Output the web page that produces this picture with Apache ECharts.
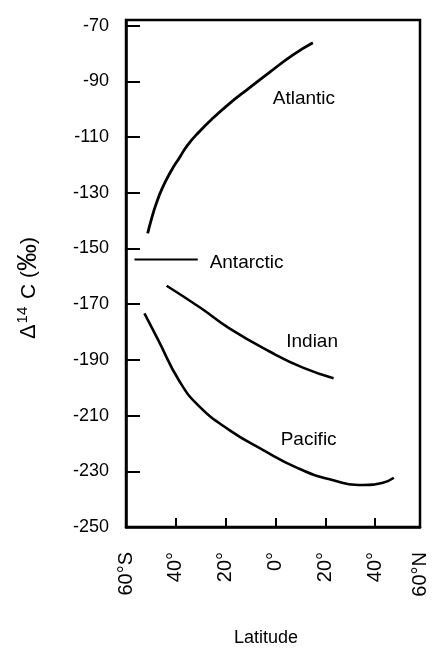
<!DOCTYPE html>
<html>
<head>
<meta charset="utf-8">
<style>
  html, body { margin: 0; padding: 0; background: #fff; }
  #chart { width: 432px; height: 652px; }
</style>
<script src="https://cdn.jsdelivr.net/npm/echarts@6/dist/echarts.min.js"></script>
</head>
<body>
<div id="chart"></div>
<script>
// Latitude (negative = south) and Δ14C (‰) values
var atlantic = [[-51.3, -144.6], [-49.9, -139.8], [-47.9, -134.0], [-45.3, -128.1], [-41.9, -122.2], [-38.6, -117.5], [-35.2, -112.8], [-30.5, -108.0], [-25.2, -103.3], [-18.5, -98.0], [-11.1, -92.8], [-2.4, -86.8], [6.9, -80.6], [15.0, -76.2]];
var antarctic = [[-56.6, -154.0], [-31.2, -154.0]];
var indian = [[-43.7, -163.4], [-30.0, -171.4], [-18.5, -178.7], [-2.4, -187.0], [11.0, -192.8], [23.3, -196.6]];
var pacific = [[-52.6, -173.3], [-47.0, -183.0], [-38.6, -197.6], [-30.5, -206.8], [-18.5, -215.2], [-5.1, -222.3], [8.3, -228.6], [21.7, -232.9], [35.1, -234.9], [43.1, -234.1], [47.5, -232.3]];

// Curve labels placed in data coordinates
var labelNames = ['Atlantic', 'Antarctic', 'Indian', 'Pacific'];
var labelLat = [11.4, -11.6, 14.7, 13.3];
var labelVal = [-96.3, -155.2, -183.4, -218.8];

var xTickLabels = ['60°S', '40°', '20°', '0°', '20°', '40°', '60°N'];
var yTickValues = [-250, -230, -210, -190, -170, -150, -130, -110, -90, -70];

var FONT = '"Liberation Sans", Arial, Helvetica, sans-serif';

var labelData = labelNames.map(function (n, i) { return [labelLat[i], labelVal[i], n]; });

function lineSeries(name, data, width) {
  return {
    name: name,
    type: 'line',
    data: data,
    smooth: 0.5,
    symbol: 'none',
    lineStyle: { color: '#000', width: width },
    silent: true
  };
}

var chart = echarts.init(document.getElementById('chart'), null, { renderer: 'canvas' });
chart.setOption({
  animation: false,
  backgroundColor: '#fff',
  textStyle: { fontFamily: FONT, color: '#000' },
  grid: {
    left: 126, right: 12, top: 20, bottom: 117,
    show: true, borderColor: '#000', borderWidth: 2.5, backgroundColor: 'transparent'
  },
  xAxis: {
    type: 'value',
    min: -60, max: 58, interval: 20,
    name: 'Latitude',
    nameLocation: 'middle',
    nameGap: 102,
    nameTextStyle: { fontFamily: FONT, fontSize: 18, color: '#000', padding: [0, 14, 0, 0] },
    axisLine: { show: true, onZero: false, lineStyle: { color: '#000', width: 2.5 } },
    axisTick: { show: true, inside: true, length: 9, lineStyle: { color: '#000', width: 2 } },
    splitLine: { show: false },
    axisLabel: {
      rotate: 90,
      margin: 25,
      fontFamily: FONT,
      fontSize: 20,
      color: '#000',
      formatter: function (v) {
        var idx = Math.round((v + 60) / 20);
        return xTickLabels[idx] !== undefined ? xTickLabels[idx] : '';
      }
    }
  },
  yAxis: {
    type: 'value',
    min: -250, max: -68, interval: 20,
    axisLine: { show: true, onZero: false, lineStyle: { color: '#000', width: 2.5 } },
    axisTick: { show: true, inside: true, length: 14, lineStyle: { color: '#000', width: 2 } },
    splitLine: { show: false },
    axisLabel: {
      margin: 17,
      fontFamily: FONT,
      fontSize: 18,
      color: '#000',
      formatter: function (v) {
        return yTickValues.indexOf(v) >= 0 ? String(v) : '';
      }
    }
  },
  graphic: [{
    type: 'text',
    x: 29, y: 288,
    rotation: Math.PI / 2,
    style: {
      text: '{d|Δ}{s|14}{a| C (}{p|‰}{a|)}',
      align: 'center',
      verticalAlign: 'middle',
      fill: '#000',
      font: '21px ' + FONT,
      rich: {
        d: { fontSize: 22, fontFamily: FONT, fill: '#000', color: '#000' },
        a: { fontSize: 21, fontFamily: FONT, fill: '#000', color: '#000' },
        p: { fontSize: 27, fontFamily: FONT, fill: '#000', color: '#000' },
        s: { fontSize: 15, fontFamily: FONT, fill: '#000', color: '#000', verticalAlign: 'top', padding: [0, 2, 10, 1] }
      }
    }
  }],
  series: [
    lineSeries('Atlantic', atlantic, 2.8),
    lineSeries('Antarctic', antarctic, 2),
    lineSeries('Indian', indian, 2.6),
    lineSeries('Pacific', pacific, 2.6),
    {
      name: 'labels',
      type: 'scatter',
      data: labelData,
      symbolSize: 0,
      silent: true,
      itemStyle: { opacity: 1, color: '#000' },
      label: {
        show: true,
        position: 'inside',
        formatter: function (p) { return p.data[2]; },
        fontFamily: FONT,
        fontSize: 19,
        color: '#000',
        opacity: 1
      }
    }
  ]
});
</script>
</body>
</html>
